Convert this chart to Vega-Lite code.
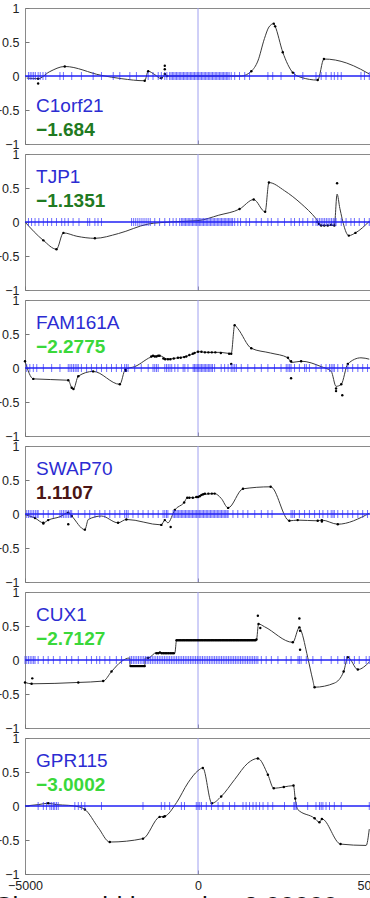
{
"$schema": "https://vega.github.io/schema/vega-lite/v6.json",
"padding": {"left": -7, "top": 1, "right": 0, "bottom": 0},
"background": "white",
"spacing": 10,
"bounds": "flush",
"title": {"text": "Cluster width p-value 3.00000", "orient": "bottom", "fontSize": 26, "font": "Liberation Sans", "fontWeight": "normal", "color": "#111", "offset": 2},
"config": {
  "view": {"stroke": "#8a8a8a", "strokeWidth": 1},
  "axis": {"grid": false, "domain": false, "labelFont": "Liberation Sans", "labelFontSize": 12.5, "labelColor": "#222", "tickColor": "#777", "tickSize": -4, "labelPadding": 10, "labelFlush": false, "labelOverlap": false, "labelBound": false}
},
"datasets": {
"lab": [{"gene":"C1orf21","score":-1.684},{"gene":"TJP1","score":-1.1351},{"gene":"FAM161A","score":-2.2775},{"gene":"SWAP70","score":1.1107},{"gene":"CUX1","score":-2.7127},{"gene":"GPR115","score":-3.0002}],
"c1": [{"x":-4950,"y":-0.03},{"x":-4620,"y":-0.04},{"x":-4300,"y":0.06},{"x":-3850,"y":0.14},{"x":-2800,"y":0.01},{"x":-2200,"y":-0.04},{"x":-1540,"y":-0.07},{"x":-1440,"y":0.07},{"x":-1250,"y":0.02},{"x":-1060,"y":-0.04},{"x":-960,"y":0.02},{"x":-870,"y":0},{"x":1250,"y":0},{"x":1540,"y":0.07},{"x":1730,"y":0.22},{"x":1920,"y":0.55},{"x":2050,"y":0.72},{"x":2190,"y":0.77},{"x":2230,"y":0.73},{"x":2450,"y":0.35},{"x":2740,"y":0.05},{"x":2980,"y":-0.02},{"x":3460,"y":-0.06},{"x":3640,"y":0.25},{"x":4300,"y":0.19},{"x":4700,"y":0.1},{"x":4950,"y":0.03}],
"p1": [{"x":-4620,"y":-0.04},{"x":-4620,"y":-0.11},{"x":-3850,"y":0.14},{"x":-1540,"y":-0.07},{"x":-1440,"y":0.07},{"x":-1060,"y":-0.03},{"x":-960,"y":0.15},{"x":-960,"y":0.1},{"x":-960,"y":0.03},{"x":-900,"y":0},{"x":1540,"y":0.07},{"x":2190,"y":0.77},{"x":2230,"y":0.73},{"x":2450,"y":0.35},{"x":2740,"y":0.05},{"x":3460,"y":-0.06},{"x":3640,"y":0.25}],
"t1": [{"x":-4900},{"x":-4850},{"x":-4800},{"x":-4750},{"x":-4700},{"x":-4620},{"x":-4560},{"x":-4480},{"x":-4400},{"x":-3990},{"x":-3890},{"x":-3650},{"x":-3370},{"x":-3030},{"x":-2790},{"x":-2450},{"x":-2260},{"x":-1970},{"x":-1780},{"x":-1440},{"x":-1300},{"x":-1150},{"x":-1060},{"x":-960},{"x":-900},{"x":-820},{"x":-780},{"x":-740},{"x":-700},{"x":-660},{"x":-620},{"x":-580},{"x":-540},{"x":-500},{"x":-460},{"x":-420},{"x":-380},{"x":-340},{"x":-300},{"x":-260},{"x":-220},{"x":-180},{"x":-140},{"x":-100},{"x":-60},{"x":-20},{"x":20},{"x":60},{"x":100},{"x":140},{"x":180},{"x":220},{"x":260},{"x":300},{"x":340},{"x":380},{"x":420},{"x":460},{"x":500},{"x":540},{"x":580},{"x":620},{"x":660},{"x":700},{"x":740},{"x":780},{"x":820},{"x":860},{"x":900},{"x":960},{"x":1060},{"x":1200},{"x":1350},{"x":1490},{"x":2020},{"x":2160},{"x":2400},{"x":2790},{"x":3030},{"x":3410},{"x":3560},{"x":3700},{"x":3850},{"x":3940},{"x":4040},{"x":4140},{"x":4710},{"x":4810},{"x":4950}],
"c2": [{"x":-5000,"y":0},{"x":-4470,"y":-0.27},{"x":-4090,"y":-0.4},{"x":-3890,"y":-0.16},{"x":-3500,"y":-0.21},{"x":-2980,"y":-0.24},{"x":-2300,"y":-0.17},{"x":-1440,"y":-0.03},{"x":-800,"y":0},{"x":0,"y":0.02},{"x":600,"y":0.1},{"x":1200,"y":0.19},{"x":1610,"y":0.33},{"x":1940,"y":0.15},{"x":2050,"y":0.58},{"x":2500,"y":0.46},{"x":2980,"y":0.27},{"x":3410,"y":0.05},{"x":3560,"y":-0.05},{"x":3750,"y":-0.05},{"x":3940,"y":-0.05},{"x":4020,"y":0.41},{"x":4100,"y":0.2},{"x":4360,"y":-0.2},{"x":4550,"y":-0.16},{"x":4950,"y":0.01}],
"p2": [{"x":-4470,"y":-0.27},{"x":-4090,"y":-0.4},{"x":-3890,"y":-0.16},{"x":-2980,"y":-0.24},{"x":1200,"y":0.19},{"x":1610,"y":0.33},{"x":1940,"y":0.15},{"x":2050,"y":0.58},{"x":3450,"y":0},{"x":3500,"y":-0.03},{"x":3560,"y":-0.05},{"x":3650,"y":-0.05},{"x":3750,"y":-0.05},{"x":3850,"y":-0.04},{"x":3940,"y":-0.05},{"x":4020,"y":0.57},{"x":4360,"y":-0.2},{"x":4550,"y":-0.16}],
"t2": [{"x":-4900},{"x":-4810},{"x":-4710},{"x":-4600},{"x":-4470},{"x":-4350},{"x":-4230},{"x":-4090},{"x":-3940},{"x":-3850},{"x":-3750},{"x":-3610},{"x":-3440},{"x":-3190},{"x":-3130},{"x":-2980},{"x":-2890},{"x":-2790},{"x":-1920},{"x":-1860},{"x":-1800},{"x":-1740},{"x":-1680},{"x":-1620},{"x":-1560},{"x":-1500},{"x":-1440},{"x":-1380},{"x":-1250},{"x":-1110},{"x":-960},{"x":-820},{"x":-720},{"x":-630},{"x":-530},{"x":-480},{"x":-440},{"x":-400},{"x":-360},{"x":-320},{"x":-280},{"x":-240},{"x":-200},{"x":-160},{"x":-120},{"x":-80},{"x":-40},{"x":0},{"x":40},{"x":80},{"x":120},{"x":160},{"x":200},{"x":240},{"x":280},{"x":320},{"x":360},{"x":400},{"x":440},{"x":480},{"x":520},{"x":560},{"x":600},{"x":640},{"x":680},{"x":720},{"x":760},{"x":800},{"x":840},{"x":880},{"x":920},{"x":960},{"x":1000},{"x":1060},{"x":1150},{"x":1230},{"x":1390},{"x":1490},{"x":1680},{"x":1830},{"x":2020},{"x":2120},{"x":2310},{"x":2500},{"x":2690},{"x":2790},{"x":2930},{"x":3030},{"x":3170},{"x":3320},{"x":3410},{"x":3460},{"x":3510},{"x":3560},{"x":3610},{"x":3660},{"x":3710},{"x":3760},{"x":3810},{"x":3860},{"x":3910},{"x":3960},{"x":3990},{"x":4140},{"x":4280},{"x":4420},{"x":4520},{"x":4660},{"x":4810},{"x":4950}],
"c3": [{"x":-5000,"y":0.1},{"x":-4760,"y":-0.16},{"x":-3750,"y":-0.18},{"x":-3650,"y":-0.29},{"x":-3600,"y":-0.31},{"x":-3460,"y":-0.12},{"x":-3030,"y":-0.05},{"x":-2260,"y":-0.24},{"x":-2100,"y":-0.02},{"x":-1830,"y":0.02},{"x":-1300,"y":0.17},{"x":-1110,"y":0.18},{"x":-870,"y":0.13},{"x":-580,"y":0.15},{"x":-340,"y":0.17},{"x":-100,"y":0.22},{"x":0,"y":0.24},{"x":300,"y":0.23},{"x":660,"y":0.23},{"x":960,"y":0.21},{"x":1060,"y":0.63},{"x":1150,"y":0.58},{"x":1540,"y":0.29},{"x":2100,"y":0.22},{"x":2600,"y":0.15},{"x":2690,"y":0.08},{"x":2980,"y":0.1},{"x":3560,"y":0.02},{"x":3850,"y":-0.05},{"x":3990,"y":-0.27},{"x":4140,"y":-0.24},{"x":4330,"y":0.06},{"x":4710,"y":0.15},{"x":4950,"y":0.13}],
"p3": [{"x":-5000,"y":0.1},{"x":-4760,"y":-0.16},{"x":-3750,"y":-0.18},{"x":-3650,"y":-0.29},{"x":-3600,"y":-0.31},{"x":-3460,"y":-0.12},{"x":-3030,"y":-0.05},{"x":-2260,"y":-0.24},{"x":-2100,"y":-0.02},{"x":-2080,"y":-0.04},{"x":-1350,"y":0.17},{"x":-1300,"y":0.18},{"x":-1250,"y":0.17},{"x":-1200,"y":0.17},{"x":-1150,"y":0.18},{"x":-1110,"y":0.18},{"x":-1000,"y":0.14},{"x":-950,"y":0.13},{"x":-870,"y":0.13},{"x":-800,"y":0.13},{"x":-700,"y":0.14},{"x":-580,"y":0.15},{"x":-500,"y":0.15},{"x":-400,"y":0.16},{"x":-340,"y":0.17},{"x":-250,"y":0.19},{"x":-150,"y":0.21},{"x":-100,"y":0.22},{"x":0,"y":0.24},{"x":100,"y":0.24},{"x":200,"y":0.23},{"x":300,"y":0.23},{"x":400,"y":0.23},{"x":500,"y":0.23},{"x":660,"y":0.22},{"x":900,"y":0.21},{"x":960,"y":0.21},{"x":960,"y":0.06},{"x":1060,"y":0.63},{"x":1540,"y":0.29},{"x":2600,"y":0.15},{"x":2690,"y":0.1},{"x":2690,"y":-0.15},{"x":2980,"y":0.1},{"x":3990,"y":-0.3},{"x":3990,"y":-0.34},{"x":4170,"y":-0.4},{"x":4140,"y":-0.24},{"x":4330,"y":0.06}],
"t3": [{"x":-4950},{"x":-4860},{"x":-4760},{"x":-4660},{"x":-4470},{"x":-4230},{"x":-3990},{"x":-3750},{"x":-3700},{"x":-3650},{"x":-3600},{"x":-3550},{"x":-3500},{"x":-3460},{"x":-3370},{"x":-3220},{"x":-3080},{"x":-2930},{"x":-2790},{"x":-2640},{"x":-2500},{"x":-2360},{"x":-2210},{"x":-2120},{"x":-2070},{"x":-2020},{"x":-1830},{"x":-1640},{"x":-1440},{"x":-1300},{"x":-1250},{"x":-1200},{"x":-1150},{"x":-960},{"x":-910},{"x":-860},{"x":-810},{"x":-760},{"x":-670},{"x":-580},{"x":-430},{"x":-380},{"x":-290},{"x":-140},{"x":-100},{"x":-60},{"x":-20},{"x":20},{"x":60},{"x":100},{"x":140},{"x":180},{"x":220},{"x":260},{"x":300},{"x":340},{"x":380},{"x":420},{"x":480},{"x":670},{"x":770},{"x":870},{"x":960},{"x":1010},{"x":1060},{"x":1110},{"x":1250},{"x":1440},{"x":1640},{"x":1830},{"x":2020},{"x":2210},{"x":2400},{"x":2550},{"x":2600},{"x":2650},{"x":2690},{"x":2790},{"x":2930},{"x":3080},{"x":3130},{"x":3220},{"x":3410},{"x":3560},{"x":3700},{"x":3800},{"x":3850},{"x":3900},{"x":3940},{"x":4040},{"x":4180},{"x":4330},{"x":4470},{"x":4620},{"x":4760},{"x":4900}],
"c4": [{"x":-5000,"y":-0.01},{"x":-4710,"y":-0.06},{"x":-4470,"y":-0.13},{"x":-4330,"y":-0.09},{"x":-3990,"y":-0.04},{"x":-3750,"y":0.02},{"x":-3650,"y":-0.03},{"x":-3270,"y":-0.23},{"x":-3170,"y":-0.08},{"x":-2790,"y":-0.03},{"x":-2310,"y":-0.13},{"x":-2070,"y":-0.08},{"x":-1060,"y":-0.16},{"x":-960,"y":-0.09},{"x":-870,"y":-0.13},{"x":-670,"y":0.06},{"x":-400,"y":0.17},{"x":-310,"y":0.24},{"x":-100,"y":0.24},{"x":100,"y":0.28},{"x":480,"y":0.3},{"x":670,"y":0.23},{"x":870,"y":0.09},{"x":1300,"y":0.37},{"x":2100,"y":0.4},{"x":2640,"y":-0.1},{"x":2880,"y":-0.09},{"x":3460,"y":-0.1},{"x":3580,"y":-0.09},{"x":4040,"y":-0.15},{"x":4950,"y":0.01}],
"p4": [{"x":-4710,"y":-0.06},{"x":-4470,"y":-0.13},{"x":-4470,"y":-0.14},{"x":-4330,"y":-0.09},{"x":-3750,"y":0.02},{"x":-3750,"y":-0.15},{"x":-3650,"y":-0.03},{"x":-3270,"y":-0.23},{"x":-2310,"y":-0.13},{"x":-2070,"y":-0.08},{"x":-1060,"y":-0.16},{"x":-960,"y":-0.09},{"x":-790,"y":-0.19},{"x":-670,"y":0.06},{"x":-400,"y":0.17},{"x":-310,"y":0.24},{"x":-250,"y":0.24},{"x":-150,"y":0.24},{"x":-50,"y":0.25},{"x":0,"y":0.25},{"x":50,"y":0.26},{"x":100,"y":0.28},{"x":150,"y":0.29},{"x":200,"y":0.3},{"x":300,"y":0.3},{"x":400,"y":0.3},{"x":480,"y":0.3},{"x":870,"y":0.09},{"x":1300,"y":0.37},{"x":2100,"y":0.4},{"x":2640,"y":-0.1},{"x":2880,"y":-0.09},{"x":3460,"y":-0.1},{"x":3580,"y":-0.09},{"x":3580,"y":-0.11},{"x":4040,"y":-0.15}],
"t4": [{"x":-4950},{"x":-4900},{"x":-4850},{"x":-4800},{"x":-4750},{"x":-4700},{"x":-4650},{"x":-4620},{"x":-4470},{"x":-4330},{"x":-4180},{"x":-3990},{"x":-3940},{"x":-3890},{"x":-3840},{"x":-3790},{"x":-3740},{"x":-3690},{"x":-3650},{"x":-3460},{"x":-3270},{"x":-3130},{"x":-2980},{"x":-2840},{"x":-2690},{"x":-2550},{"x":-2400},{"x":-2260},{"x":-2120},{"x":-2070},{"x":-2020},{"x":-1880},{"x":-1730},{"x":-1590},{"x":-1440},{"x":-1300},{"x":-1150},{"x":-1010},{"x":-960},{"x":-910},{"x":-870},{"x":-720},{"x":-680},{"x":-640},{"x":-600},{"x":-560},{"x":-520},{"x":-480},{"x":-440},{"x":-400},{"x":-360},{"x":-320},{"x":-280},{"x":-240},{"x":-200},{"x":-160},{"x":-120},{"x":-80},{"x":-40},{"x":0},{"x":40},{"x":80},{"x":120},{"x":160},{"x":200},{"x":240},{"x":280},{"x":320},{"x":360},{"x":400},{"x":440},{"x":480},{"x":520},{"x":560},{"x":600},{"x":640},{"x":680},{"x":720},{"x":760},{"x":800},{"x":840},{"x":870},{"x":1010},{"x":1150},{"x":1300},{"x":1440},{"x":1640},{"x":1830},{"x":2020},{"x":2140},{"x":2690},{"x":2740},{"x":2790},{"x":2930},{"x":3080},{"x":3220},{"x":3370},{"x":3510},{"x":3610},{"x":3750},{"x":3850},{"x":3900},{"x":3940},{"x":4040},{"x":4180},{"x":4330},{"x":4470},{"x":4620},{"x":4760},{"x":4900}],
"c5": [{"x":-5000,"y":-0.33},{"x":-4810,"y":-0.35},{"x":-3460,"y":-0.33},{"x":-2740,"y":-0.31},{"x":-2500,"y":-0.17},{"x":-2210,"y":-0.02},{"x":-1975,"y":0.03},{"x":-1960,"y":-0.09},{"x":-1540,"y":-0.09},{"x":-1525,"y":0.03},{"x":-1440,"y":0.03},{"x":-1200,"y":0.11},{"x":-670,"y":0.1},{"x":-620,"y":0.29},{"x":1690,"y":0.3},{"x":1750,"y":0.53},{"x":1920,"y":0.49},{"x":2740,"y":0.26},{"x":2930,"y":0.48},{"x":2980,"y":0.43},{"x":3170,"y":0.04},{"x":3320,"y":-0.3},{"x":3370,"y":-0.4},{"x":3940,"y":-0.34},{"x":4210,"y":-0.17},{"x":4330,"y":0.04},{"x":4620,"y":-0.14},{"x":4950,"y":-0.03}],
"p5": [{"x":-5000,"y":-0.33},{"x":-4810,"y":-0.35},{"x":-4790,"y":-0.27},{"x":-3460,"y":-0.33},{"x":-2740,"y":-0.31},{"x":-2500,"y":-0.17},{"x":-1950,"y":-0.09},{"x":-1920,"y":-0.09},{"x":-1890,"y":-0.09},{"x":-1860,"y":-0.09},{"x":-1830,"y":-0.09},{"x":-1800,"y":-0.09},{"x":-1770,"y":-0.09},{"x":-1740,"y":-0.09},{"x":-1710,"y":-0.09},{"x":-1680,"y":-0.09},{"x":-1650,"y":-0.09},{"x":-1620,"y":-0.09},{"x":-1590,"y":-0.09},{"x":-1560,"y":-0.09},{"x":-1540,"y":-0.09},{"x":-1440,"y":0.03},{"x":-1200,"y":0.1},{"x":-1150,"y":0.1},{"x":-1100,"y":0.11},{"x":-1050,"y":0.1},{"x":-1000,"y":0.1},{"x":-950,"y":0.1},{"x":-900,"y":0.1},{"x":-850,"y":0.1},{"x":-800,"y":0.1},{"x":-750,"y":0.1},{"x":-700,"y":0.1},{"x":-620,"y":0.29},{"x":-580,"y":0.29},{"x":-540,"y":0.29},{"x":-500,"y":0.29},{"x":-460,"y":0.29},{"x":-420,"y":0.29},{"x":-380,"y":0.29},{"x":-340,"y":0.29},{"x":-300,"y":0.29},{"x":-260,"y":0.29},{"x":-220,"y":0.29},{"x":-180,"y":0.29},{"x":-140,"y":0.29},{"x":-100,"y":0.29},{"x":-60,"y":0.29},{"x":-20,"y":0.29},{"x":20,"y":0.29},{"x":60,"y":0.29},{"x":100,"y":0.29},{"x":140,"y":0.29},{"x":180,"y":0.29},{"x":220,"y":0.29},{"x":260,"y":0.29},{"x":300,"y":0.29},{"x":340,"y":0.29},{"x":380,"y":0.29},{"x":420,"y":0.29},{"x":460,"y":0.29},{"x":500,"y":0.29},{"x":540,"y":0.29},{"x":580,"y":0.29},{"x":620,"y":0.29},{"x":660,"y":0.29},{"x":700,"y":0.29},{"x":740,"y":0.29},{"x":780,"y":0.29},{"x":820,"y":0.29},{"x":860,"y":0.29},{"x":900,"y":0.29},{"x":940,"y":0.29},{"x":980,"y":0.29},{"x":1020,"y":0.29},{"x":1060,"y":0.29},{"x":1100,"y":0.29},{"x":1140,"y":0.29},{"x":1180,"y":0.29},{"x":1220,"y":0.29},{"x":1260,"y":0.29},{"x":1300,"y":0.29},{"x":1340,"y":0.29},{"x":1380,"y":0.29},{"x":1420,"y":0.29},{"x":1460,"y":0.29},{"x":1500,"y":0.29},{"x":1540,"y":0.29},{"x":1580,"y":0.29},{"x":1620,"y":0.29},{"x":1660,"y":0.29},{"x":1690,"y":0.3},{"x":1730,"y":0.65},{"x":1750,"y":0.53},{"x":1800,"y":0.47},{"x":2740,"y":0.26},{"x":2930,"y":0.61},{"x":2930,"y":0.48},{"x":2950,"y":0.43},{"x":2950,"y":0.15},{"x":3370,"y":-0.4},{"x":4210,"y":-0.17},{"x":4330,"y":0.04},{"x":4620,"y":-0.14}],
"t5": [{"x":-5000},{"x":-4950},{"x":-4900},{"x":-4850},{"x":-4800},{"x":-4750},{"x":-4710},{"x":-4620},{"x":-4470},{"x":-4330},{"x":-4180},{"x":-3990},{"x":-3800},{"x":-3650},{"x":-3460},{"x":-3220},{"x":-3080},{"x":-2930},{"x":-2840},{"x":-2690},{"x":-2550},{"x":-2360},{"x":-2210},{"x":-1970},{"x":-1920},{"x":-1870},{"x":-1820},{"x":-1770},{"x":-1720},{"x":-1670},{"x":-1620},{"x":-1570},{"x":-1520},{"x":-1470},{"x":-1420},{"x":-1370},{"x":-1320},{"x":-1270},{"x":-1220},{"x":-1170},{"x":-1120},{"x":-1070},{"x":-1020},{"x":-970},{"x":-920},{"x":-870},{"x":-820},{"x":-770},{"x":-720},{"x":-670},{"x":-620},{"x":-570},{"x":-520},{"x":-470},{"x":-420},{"x":-370},{"x":-320},{"x":-270},{"x":-220},{"x":-170},{"x":-120},{"x":-70},{"x":-20},{"x":30},{"x":80},{"x":130},{"x":180},{"x":230},{"x":280},{"x":330},{"x":380},{"x":430},{"x":480},{"x":530},{"x":580},{"x":630},{"x":680},{"x":730},{"x":780},{"x":830},{"x":880},{"x":930},{"x":980},{"x":1030},{"x":1080},{"x":1130},{"x":1180},{"x":1230},{"x":1280},{"x":1330},{"x":1380},{"x":1430},{"x":1480},{"x":1530},{"x":1580},{"x":1630},{"x":1680},{"x":1730},{"x":1830},{"x":1970},{"x":2120},{"x":2310},{"x":2550},{"x":2690},{"x":2890},{"x":2930},{"x":2980},{"x":3130},{"x":3320},{"x":3560},{"x":3850},{"x":4040},{"x":4230},{"x":4300},{"x":4380},{"x":4520},{"x":4660},{"x":4860},{"x":4950}],
"c6": [{"x":-5000,"y":0},{"x":-4620,"y":0.02},{"x":-4330,"y":0.04},{"x":-4090,"y":0.02},{"x":-3750,"y":0.01},{"x":-3460,"y":-0.01},{"x":-3270,"y":-0.05},{"x":-2880,"y":-0.32},{"x":-2550,"y":-0.53},{"x":-1590,"y":-0.48},{"x":-1110,"y":-0.16},{"x":-960,"y":-0.15},{"x":-620,"y":0.05},{"x":-290,"y":0.34},{"x":0,"y":0.52},{"x":140,"y":0.56},{"x":400,"y":0.04},{"x":670,"y":0.14},{"x":1060,"y":0.39},{"x":1440,"y":0.63},{"x":1730,"y":0.7},{"x":2020,"y":0.46},{"x":2190,"y":0.26},{"x":2480,"y":0.28},{"x":2760,"y":0.3},{"x":2810,"y":0.11},{"x":2880,"y":-0.05},{"x":3370,"y":-0.18},{"x":3510,"y":-0.24},{"x":3580,"y":-0.19},{"x":4120,"y":-0.56},{"x":4860,"y":-0.58},{"x":4950,"y":-0.34}],
"p6": [{"x":-4330,"y":0.04},{"x":-3270,"y":-0.05},{"x":-2550,"y":-0.53},{"x":-1590,"y":-0.48},{"x":-1110,"y":-0.16},{"x":-1000,"y":-0.16},{"x":-960,"y":-0.15},{"x":140,"y":0.56},{"x":400,"y":0.04},{"x":670,"y":0.14},{"x":1730,"y":0.7},{"x":2020,"y":0.46},{"x":2190,"y":0.26},{"x":2480,"y":0.28},{"x":2760,"y":0.3},{"x":2810,"y":0.11},{"x":3370,"y":-0.18},{"x":3510,"y":-0.24},{"x":3580,"y":-0.19},{"x":4120,"y":-0.56}],
"t6": [{"x":-4620},{"x":-4470},{"x":-4380},{"x":-4280},{"x":-4230},{"x":-4180},{"x":-4140},{"x":-4090},{"x":-4040},{"x":-3560},{"x":-3460},{"x":-3370},{"x":-3270},{"x":-2790},{"x":-1590},{"x":-1060},{"x":-960},{"x":-820},{"x":-480},{"x":-390},{"x":-50},{"x":0},{"x":50},{"x":100},{"x":240},{"x":390},{"x":580},{"x":720},{"x":910},{"x":1060},{"x":1300},{"x":1390},{"x":1490},{"x":1590},{"x":1680},{"x":1780},{"x":1880},{"x":2020},{"x":2160},{"x":2500},{"x":2770},{"x":2800},{"x":2840},{"x":3170},{"x":3410},{"x":3510},{"x":3560},{"x":3610},{"x":3700},{"x":3800},{"x":3940},{"x":4140},{"x":4950}]
},
"vconcat": [
{"width": 346, "height": 136, "layer": [
 {"data": {"name": "lab"}, "transform": [{"filter": "datum.gene == 'C1orf21'"}], "mark": {"type": "rule", "color": "#a0a0f0", "strokeWidth": 1}, "encoding": {"x": {"datum": 0, "type": "quantitative"}}},
 {"data": {"name": "c1"}, "mark": {"type": "line", "interpolate": "monotone", "color": "#3a3a3a", "strokeWidth": 1}, "encoding": {"x": {"field": "x", "type": "quantitative", "scale": {"domain": [-5000, 5000], "nice": false, "zero": false}, "axis": {"title": null, "values": [-5000, 0, 5000], "labels": false, "tickCount": 10}}, "y": {"field": "y", "type": "quantitative", "scale": {"domain": [-1, 1], "nice": false}, "axis": {"title": null, "values": [-1, -0.5, 0, 0.5, 1], "tickCount": 10, "format": "~g", "labelOverlap": false}}}},
 {"data": {"name": "p1"}, "mark": {"type": "point", "filled": true, "size": 6, "color": "#000", "opacity": 1}, "encoding": {"x": {"field": "x", "type": "quantitative"}, "y": {"field": "y", "type": "quantitative"}}},
 {"data": {"name": "t1"}, "mark": {"type": "tick", "orient": "vertical", "color": "#2f2fff", "size": 8, "thickness": 1}, "encoding": {"x": {"field": "x", "type": "quantitative"}, "y": {"datum": 0, "type": "quantitative"}}},
 {"data": {"name": "lab"}, "transform": [{"filter": "datum.gene == 'C1orf21'"}], "mark": {"type": "rule", "color": "#2020f5", "strokeWidth": 1.5}, "encoding": {"y": {"datum": 0, "type": "quantitative"}}},
 {"data": {"name": "lab"}, "transform": [{"filter": "datum.gene == 'C1orf21'"}], "mark": {"type": "text", "align": "left", "baseline": "alphabetic", "font": "Liberation Sans", "fontSize": 19, "color": "#2c2cd2"}, "encoding": {"x": {"datum": -4680, "type": "quantitative"}, "y": {"datum": -0.53, "type": "quantitative"}, "text": {"field": "gene"}}},
 {"data": {"name": "lab"}, "transform": [{"filter": "datum.gene == 'C1orf21'"}], "mark": {"type": "text", "align": "left", "baseline": "alphabetic", "font": "Liberation Sans", "fontSize": 19, "fontWeight": "bold"}, "encoding": {"x": {"datum": -4680, "type": "quantitative"}, "y": {"datum": -0.88, "type": "quantitative"}, "text": {"field": "score", "type": "quantitative", "format": ".5~g"}, "color": {"field": "score", "type": "quantitative", "scale": {"type": "threshold", "domain": [-2, 0], "range": ["#3ad83a", "#1f7a22", "#4a1515"]}, "legend": null}}}
]},
{"width": 346, "height": 136, "layer": [
 {"data": {"name": "lab"}, "transform": [{"filter": "datum.gene == 'TJP1'"}], "mark": {"type": "rule", "color": "#a0a0f0", "strokeWidth": 1}, "encoding": {"x": {"datum": 0, "type": "quantitative"}}},
 {"data": {"name": "c2"}, "mark": {"type": "line", "interpolate": "monotone", "color": "#3a3a3a", "strokeWidth": 1}, "encoding": {"x": {"field": "x", "type": "quantitative", "scale": {"domain": [-5000, 5000], "nice": false, "zero": false}, "axis": {"title": null, "values": [-5000, 0, 5000], "labels": false, "tickCount": 10}}, "y": {"field": "y", "type": "quantitative", "scale": {"domain": [-1, 1], "nice": false}, "axis": {"title": null, "values": [-1, -0.5, 0, 0.5, 1], "tickCount": 10, "format": "~g", "labelOverlap": false}}}},
 {"data": {"name": "p2"}, "mark": {"type": "point", "filled": true, "size": 6, "color": "#000", "opacity": 1}, "encoding": {"x": {"field": "x", "type": "quantitative"}, "y": {"field": "y", "type": "quantitative"}}},
 {"data": {"name": "t2"}, "mark": {"type": "tick", "orient": "vertical", "color": "#2f2fff", "size": 8, "thickness": 1}, "encoding": {"x": {"field": "x", "type": "quantitative"}, "y": {"datum": 0, "type": "quantitative"}}},
 {"data": {"name": "lab"}, "transform": [{"filter": "datum.gene == 'TJP1'"}], "mark": {"type": "rule", "color": "#2020f5", "strokeWidth": 1.5}, "encoding": {"y": {"datum": 0, "type": "quantitative"}}},
 {"data": {"name": "lab"}, "transform": [{"filter": "datum.gene == 'TJP1'"}], "mark": {"type": "text", "align": "left", "baseline": "alphabetic", "font": "Liberation Sans", "fontSize": 19, "color": "#2c2cd2"}, "encoding": {"x": {"datum": -4680, "type": "quantitative"}, "y": {"datum": 0.57, "type": "quantitative"}, "text": {"field": "gene"}}},
 {"data": {"name": "lab"}, "transform": [{"filter": "datum.gene == 'TJP1'"}], "mark": {"type": "text", "align": "left", "baseline": "alphabetic", "font": "Liberation Sans", "fontSize": 19, "fontWeight": "bold"}, "encoding": {"x": {"datum": -4680, "type": "quantitative"}, "y": {"datum": 0.22, "type": "quantitative"}, "text": {"field": "score", "type": "quantitative", "format": ".5~g"}, "color": {"field": "score", "type": "quantitative", "scale": {"type": "threshold", "domain": [-2, 0], "range": ["#3ad83a", "#1f7a22", "#4a1515"]}, "legend": null}}}
]},
{"width": 346, "height": 136, "layer": [
 {"data": {"name": "lab"}, "transform": [{"filter": "datum.gene == 'FAM161A'"}], "mark": {"type": "rule", "color": "#a0a0f0", "strokeWidth": 1}, "encoding": {"x": {"datum": 0, "type": "quantitative"}}},
 {"data": {"name": "c3"}, "mark": {"type": "line", "interpolate": "monotone", "color": "#3a3a3a", "strokeWidth": 1}, "encoding": {"x": {"field": "x", "type": "quantitative", "scale": {"domain": [-5000, 5000], "nice": false, "zero": false}, "axis": {"title": null, "values": [-5000, 0, 5000], "labels": false, "tickCount": 10}}, "y": {"field": "y", "type": "quantitative", "scale": {"domain": [-1, 1], "nice": false}, "axis": {"title": null, "values": [-1, -0.5, 0, 0.5, 1], "tickCount": 10, "format": "~g", "labelOverlap": false}}}},
 {"data": {"name": "p3"}, "mark": {"type": "point", "filled": true, "size": 6, "color": "#000", "opacity": 1}, "encoding": {"x": {"field": "x", "type": "quantitative"}, "y": {"field": "y", "type": "quantitative"}}},
 {"data": {"name": "t3"}, "mark": {"type": "tick", "orient": "vertical", "color": "#2f2fff", "size": 8, "thickness": 1}, "encoding": {"x": {"field": "x", "type": "quantitative"}, "y": {"datum": 0, "type": "quantitative"}}},
 {"data": {"name": "lab"}, "transform": [{"filter": "datum.gene == 'FAM161A'"}], "mark": {"type": "rule", "color": "#2020f5", "strokeWidth": 1.5}, "encoding": {"y": {"datum": 0, "type": "quantitative"}}},
 {"data": {"name": "lab"}, "transform": [{"filter": "datum.gene == 'FAM161A'"}], "mark": {"type": "text", "align": "left", "baseline": "alphabetic", "font": "Liberation Sans", "fontSize": 19, "color": "#2c2cd2"}, "encoding": {"x": {"datum": -4680, "type": "quantitative"}, "y": {"datum": 0.57, "type": "quantitative"}, "text": {"field": "gene"}}},
 {"data": {"name": "lab"}, "transform": [{"filter": "datum.gene == 'FAM161A'"}], "mark": {"type": "text", "align": "left", "baseline": "alphabetic", "font": "Liberation Sans", "fontSize": 19, "fontWeight": "bold"}, "encoding": {"x": {"datum": -4680, "type": "quantitative"}, "y": {"datum": 0.22, "type": "quantitative"}, "text": {"field": "score", "type": "quantitative", "format": ".5~g"}, "color": {"field": "score", "type": "quantitative", "scale": {"type": "threshold", "domain": [-2, 0], "range": ["#3ad83a", "#1f7a22", "#4a1515"]}, "legend": null}}}
]},
{"width": 346, "height": 136, "layer": [
 {"data": {"name": "lab"}, "transform": [{"filter": "datum.gene == 'SWAP70'"}], "mark": {"type": "rule", "color": "#a0a0f0", "strokeWidth": 1}, "encoding": {"x": {"datum": 0, "type": "quantitative"}}},
 {"data": {"name": "c4"}, "mark": {"type": "line", "interpolate": "monotone", "color": "#3a3a3a", "strokeWidth": 1}, "encoding": {"x": {"field": "x", "type": "quantitative", "scale": {"domain": [-5000, 5000], "nice": false, "zero": false}, "axis": {"title": null, "values": [-5000, 0, 5000], "labels": false, "tickCount": 10}}, "y": {"field": "y", "type": "quantitative", "scale": {"domain": [-1, 1], "nice": false}, "axis": {"title": null, "values": [-1, -0.5, 0, 0.5, 1], "tickCount": 10, "format": "~g", "labelOverlap": false}}}},
 {"data": {"name": "p4"}, "mark": {"type": "point", "filled": true, "size": 6, "color": "#000", "opacity": 1}, "encoding": {"x": {"field": "x", "type": "quantitative"}, "y": {"field": "y", "type": "quantitative"}}},
 {"data": {"name": "t4"}, "mark": {"type": "tick", "orient": "vertical", "color": "#2f2fff", "size": 8, "thickness": 1}, "encoding": {"x": {"field": "x", "type": "quantitative"}, "y": {"datum": 0, "type": "quantitative"}}},
 {"data": {"name": "lab"}, "transform": [{"filter": "datum.gene == 'SWAP70'"}], "mark": {"type": "rule", "color": "#2020f5", "strokeWidth": 1.5}, "encoding": {"y": {"datum": 0, "type": "quantitative"}}},
 {"data": {"name": "lab"}, "transform": [{"filter": "datum.gene == 'SWAP70'"}], "mark": {"type": "text", "align": "left", "baseline": "alphabetic", "font": "Liberation Sans", "fontSize": 19, "color": "#2c2cd2"}, "encoding": {"x": {"datum": -4680, "type": "quantitative"}, "y": {"datum": 0.57, "type": "quantitative"}, "text": {"field": "gene"}}},
 {"data": {"name": "lab"}, "transform": [{"filter": "datum.gene == 'SWAP70'"}], "mark": {"type": "text", "align": "left", "baseline": "alphabetic", "font": "Liberation Sans", "fontSize": 19, "fontWeight": "bold"}, "encoding": {"x": {"datum": -4680, "type": "quantitative"}, "y": {"datum": 0.22, "type": "quantitative"}, "text": {"field": "score", "type": "quantitative", "format": ".5~g"}, "color": {"field": "score", "type": "quantitative", "scale": {"type": "threshold", "domain": [-2, 0], "range": ["#3ad83a", "#1f7a22", "#4a1515"]}, "legend": null}}}
]},
{"width": 346, "height": 136, "layer": [
 {"data": {"name": "lab"}, "transform": [{"filter": "datum.gene == 'CUX1'"}], "mark": {"type": "rule", "color": "#a0a0f0", "strokeWidth": 1}, "encoding": {"x": {"datum": 0, "type": "quantitative"}}},
 {"data": {"name": "c5"}, "mark": {"type": "line", "interpolate": "monotone", "color": "#3a3a3a", "strokeWidth": 1}, "encoding": {"x": {"field": "x", "type": "quantitative", "scale": {"domain": [-5000, 5000], "nice": false, "zero": false}, "axis": {"title": null, "values": [-5000, 0, 5000], "labels": false, "tickCount": 10}}, "y": {"field": "y", "type": "quantitative", "scale": {"domain": [-1, 1], "nice": false}, "axis": {"title": null, "values": [-1, -0.5, 0, 0.5, 1], "tickCount": 10, "format": "~g", "labelOverlap": false}}}},
 {"data": {"name": "p5"}, "mark": {"type": "point", "filled": true, "size": 6, "color": "#000", "opacity": 1}, "encoding": {"x": {"field": "x", "type": "quantitative"}, "y": {"field": "y", "type": "quantitative"}}},
 {"data": {"name": "t5"}, "mark": {"type": "tick", "orient": "vertical", "color": "#2f2fff", "size": 8, "thickness": 1}, "encoding": {"x": {"field": "x", "type": "quantitative"}, "y": {"datum": 0, "type": "quantitative"}}},
 {"data": {"name": "lab"}, "transform": [{"filter": "datum.gene == 'CUX1'"}], "mark": {"type": "rule", "color": "#2020f5", "strokeWidth": 1.5}, "encoding": {"y": {"datum": 0, "type": "quantitative"}}},
 {"data": {"name": "lab"}, "transform": [{"filter": "datum.gene == 'CUX1'"}], "mark": {"type": "text", "align": "left", "baseline": "alphabetic", "font": "Liberation Sans", "fontSize": 19, "color": "#2c2cd2"}, "encoding": {"x": {"datum": -4680, "type": "quantitative"}, "y": {"datum": 0.57, "type": "quantitative"}, "text": {"field": "gene"}}},
 {"data": {"name": "lab"}, "transform": [{"filter": "datum.gene == 'CUX1'"}], "mark": {"type": "text", "align": "left", "baseline": "alphabetic", "font": "Liberation Sans", "fontSize": 19, "fontWeight": "bold"}, "encoding": {"x": {"datum": -4680, "type": "quantitative"}, "y": {"datum": 0.22, "type": "quantitative"}, "text": {"field": "score", "type": "quantitative", "format": ".5~g"}, "color": {"field": "score", "type": "quantitative", "scale": {"type": "threshold", "domain": [-2, 0], "range": ["#3ad83a", "#1f7a22", "#4a1515"]}, "legend": null}}}
]},
{"width": 346, "height": 136, "layer": [
 {"data": {"name": "lab"}, "transform": [{"filter": "datum.gene == 'GPR115'"}], "mark": {"type": "rule", "color": "#a0a0f0", "strokeWidth": 1}, "encoding": {"x": {"datum": 0, "type": "quantitative"}}},
 {"data": {"name": "c6"}, "mark": {"type": "line", "interpolate": "monotone", "color": "#3a3a3a", "strokeWidth": 1}, "encoding": {"x": {"field": "x", "type": "quantitative", "scale": {"domain": [-5000, 5000], "nice": false, "zero": false}, "axis": {"title": null, "values": [-5000, 0, 5000], "labels": true, "format": "d", "labelPadding": 9, "tickCount": 10}}, "y": {"field": "y", "type": "quantitative", "scale": {"domain": [-1, 1], "nice": false}, "axis": {"title": null, "values": [-1, -0.5, 0, 0.5, 1], "tickCount": 10, "format": "~g", "labelOverlap": false}}}},
 {"data": {"name": "p6"}, "mark": {"type": "point", "filled": true, "size": 6, "color": "#000", "opacity": 1}, "encoding": {"x": {"field": "x", "type": "quantitative"}, "y": {"field": "y", "type": "quantitative"}}},
 {"data": {"name": "t6"}, "mark": {"type": "tick", "orient": "vertical", "color": "#2f2fff", "size": 8, "thickness": 1}, "encoding": {"x": {"field": "x", "type": "quantitative"}, "y": {"datum": 0, "type": "quantitative"}}},
 {"data": {"name": "lab"}, "transform": [{"filter": "datum.gene == 'GPR115'"}], "mark": {"type": "rule", "color": "#2020f5", "strokeWidth": 1.5}, "encoding": {"y": {"datum": 0, "type": "quantitative"}}},
 {"data": {"name": "lab"}, "transform": [{"filter": "datum.gene == 'GPR115'"}], "mark": {"type": "text", "align": "left", "baseline": "alphabetic", "font": "Liberation Sans", "fontSize": 19, "color": "#2c2cd2"}, "encoding": {"x": {"datum": -4680, "type": "quantitative"}, "y": {"datum": 0.57, "type": "quantitative"}, "text": {"field": "gene"}}},
 {"data": {"name": "lab"}, "transform": [{"filter": "datum.gene == 'GPR115'"}], "mark": {"type": "text", "align": "left", "baseline": "alphabetic", "font": "Liberation Sans", "fontSize": 19, "fontWeight": "bold"}, "encoding": {"x": {"datum": -4680, "type": "quantitative"}, "y": {"datum": 0.22, "type": "quantitative"}, "text": {"field": "score", "type": "quantitative", "format": ".5~g"}, "color": {"field": "score", "type": "quantitative", "scale": {"type": "threshold", "domain": [-2, 0], "range": ["#3ad83a", "#1f7a22", "#4a1515"]}, "legend": null}}}
]}
]
}
